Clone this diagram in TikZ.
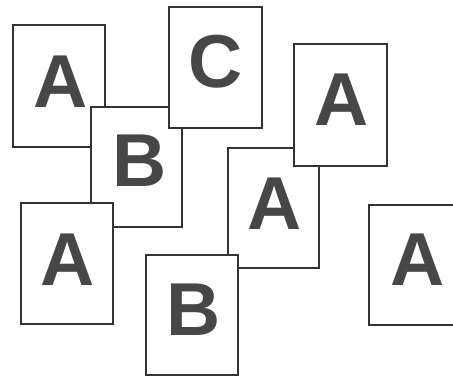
\documentclass[tikz,border=0pt]{standalone}
\usepackage{fontspec}
\setmainfont{Liberation Sans}
\begin{document}
\begin{tikzpicture}[x=1pt,y=-1pt,
  card/.style={draw=black!80, line width=1.1pt, fill=white, inner sep=0pt, outer sep=0pt},
  letter/.style={inner sep=0pt, text=black!72, font=\fontsize{75}{75}\selectfont\bfseries}]
\useasboundingbox (0,0) rectangle (453,376);
\clip (0,0) rectangle (453,376);
\node[card, minimum width=92pt, minimum height=122pt] (c1) at (59,86) {};
\node[letter] (l1) at (61,82) {A};
\node[card, minimum width=91pt, minimum height=120pt] (c2) at (136.5,167) {};
\node[letter] (l2) at (140,161) {B};
\node[card, minimum width=93pt, minimum height=121pt] (c3) at (215.5,67.5) {};
\node[letter] (l3) at (216,62) {C};
\node[card, minimum width=92pt, minimum height=121pt] (c4) at (67,263.5) {};
\node[letter] (l4) at (68,260) {A};
\node[card, minimum width=91pt, minimum height=120pt] (c5) at (273.5,208) {};
\node[letter] (l5) at (275,204) {A};
\node[card, minimum width=93pt, minimum height=122pt] (c6) at (340.5,105) {};
\node[letter] (l6) at (342,100) {A};
\node[card, minimum width=92pt, minimum height=120pt] (c7) at (192,315) {};
\node[letter] (l7) at (194,310) {B};
\node[card, minimum width=92pt, minimum height=120pt] (c8) at (415,265) {};
\node[letter] (l8) at (418,260) {A};
\end{tikzpicture}
\end{document}
